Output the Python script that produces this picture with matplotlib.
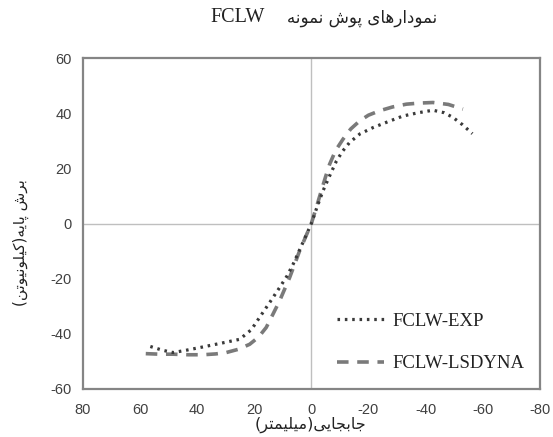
import numpy as np
import matplotlib
matplotlib.use('Agg')
import matplotlib.pyplot as plt

plt.rcParams['axes.unicode_minus'] = False

# Envelope curves (displacement mm, base shear kN)
exp_disp = [56.4, 52.0, 48.4, 44.0, 39.1, 32.0, 25.1, 21.0, 18.1, 14.5, 11.1, 8.5, 6.4, 3.0, 0.0,
            -2.0, -4.1, -6.5, -8.8, -11.0, -13.4, -17.0, -21.6, -27.0, -32.1, -37.5, -42.6, -46.5, -49.6, -53.0, -56.4]
exp_shear = [-44.6, -46.0, -46.8, -46.0, -45.0, -43.5, -42.0, -38.5, -34.0, -28.5, -23.2, -19.0, -14.8, -7.0, 0.0,
             6.0, 11.9, 17.5, 22.7, 26.3, 29.4, 32.5, 34.8, 37.0, 39.0, 40.2, 41.1, 40.2, 38.5, 35.8, 32.6]

dyna_disp = [58.0, 53.0, 48.4, 43.0, 37.9, 33.5, 29.8, 25.5, 21.6, 18.5, 15.8, 13.5, 11.1, 7.6, 4.1, 0.0,
             -1.8, -3.5, -5.0, -6.4, -8.5, -11.1, -13.8, -16.9, -20.0, -23.9, -28.5, -33.3, -38.0, -42.6, -48.0, -53.1]
dyna_shear = [-47.2, -47.4, -47.4, -47.6, -47.6, -47.3, -46.8, -45.6, -43.8, -41.2, -37.7, -33.0, -28.0, -19.6, -9.9, 0.0,
              6.0, 11.9, 17.0, 21.5, 26.5, 30.6, 34.3, 37.2, 39.3, 40.9, 42.3, 43.3, 43.7, 43.9, 43.2, 41.5]

x_ticks = [80, 60, 40, 20, 0, -20, -40, -60, -80]
y_ticks = [-60, -40, -20, 0, 20, 40, 60]

# minimal Persian shaping (matplotlib has no bidi / joining support)
FORMS = {
    'ا': ('\uFE8D', '\uFE8E', None, None), 'د': ('\uFEA9', '\uFEAA', None, None),
    'ر': ('\uFEAD', '\uFEAE', None, None), 'و': ('\uFEED', '\uFEEE', None, None),
    'ب': ('\uFE8F', '\uFE90', '\uFE91', '\uFE92'), 'پ': ('\uFB56', '\uFB57', '\uFB58', '\uFB59'),
    'ت': ('\uFE95', '\uFE96', '\uFE97', '\uFE98'), 'ج': ('\uFE9D', '\uFE9E', '\uFE9F', '\uFEA0'),
    'ش': ('\uFEB5', '\uFEB6', '\uFEB7', '\uFEB8'), 'ک': ('\uFB8E', '\uFB8F', '\uFB90', '\uFB91'),
    'ل': ('\uFEDD', '\uFEDE', '\uFEDF', '\uFEE0'), 'م': ('\uFEE1', '\uFEE2', '\uFEE3', '\uFEE4'),
    'ن': ('\uFEE5', '\uFEE6', '\uFEE7', '\uFEE8'), 'ه': ('\uFEE9', '\uFEEA', '\uFEEB', '\uFEEC'),
    'ی': ('\uFBFC', '\uFBFD', '\uFBFE', '\uFBFF'),
}
MIRROR = {'(': ')', ')': '('}


def fa(text):
    out = []
    for i, ch in enumerate(text):
        if ch not in FORMS:
            out.append(MIRROR.get(ch, ch))
            continue
        prev = text[i - 1] if i > 0 else ''
        nxt = text[i + 1] if i + 1 < len(text) else ''
        joins_prev = prev in FORMS and FORMS[prev][2] is not None
        joins_next = nxt in FORMS and FORMS[ch][2] is not None
        iso, fin, ini, med = FORMS[ch]
        if joins_prev and joins_next:
            out.append(med)
        elif joins_prev:
            out.append(fin)
        elif joins_next:
            out.append(ini)
        else:
            out.append(iso)
    return ''.join(reversed(out))


fig = plt.figure(figsize=(5.53, 4.37), dpi=100)
ax = fig.add_axes([0.150, 0.110, 0.826, 0.757])

ax.axhline(0, color='#bfbfbf', lw=1.0, zorder=1)
ax.axvline(0, color='#bfbfbf', lw=1.0, zorder=1)

ax.plot(exp_disp, exp_shear, color='#3a3a3a', lw=2.3, linestyle=(0, (0.8, 1.5)),
        label='FCLW-EXP', zorder=3)
ax.plot(dyna_disp, dyna_shear, color='#7a7a7a', lw=2.6, linestyle=(0, (3.2, 2.4)),
        label='FCLW-LSDYNA', zorder=2)

ax.set_xlim(80, -80)
ax.set_ylim(-60, 60)
ax.set_xticks(x_ticks)
ax.set_yticks(y_ticks)
ax.tick_params(length=0, labelsize=10.5, colors='#404040', pad=8)
ax.tick_params(axis='x', pad=10)
for lab in ax.get_xticklabels() + ax.get_yticklabels():
    lab.set_family('Liberation Sans')
for s in ax.spines.values():
    s.set_color('#858585')
    s.set_linewidth(1.6)

leg = ax.legend(loc='lower left', bbox_to_anchor=(0.556, 0.05), frameon=False,
                prop={'family': 'Liberation Serif', 'size': 13.5},
                borderpad=0, borderaxespad=0,
                handlelength=2.5, handletextpad=0.45, labelspacing=1.35)
for t in leg.get_texts():
    t.set_color('#222222')

fig.text(0.790, 0.959, fa('نمودارهای پوش نمونه'), ha='right', va='center',
         fontsize=12, family='DejaVu Sans', color='#222222')
fig.text(0.380, 0.959, 'FCLW', ha='left', va='center',
         fontsize=14.5, family='Liberation Serif', color='#222222')
fig.text(0.038, 0.444, fa('برش پایه(کیلونیوتن)'), ha='center', va='center',
         rotation=90, fontsize=11, family='DejaVu Sans', color='#222222')
fig.text(0.562, 0.028, fa('جابجایی(میلیمتر)'), ha='center', va='center',
         fontsize=11.5, family='DejaVu Sans', color='#222222')

fig.savefig('out.png', dpi=100)
